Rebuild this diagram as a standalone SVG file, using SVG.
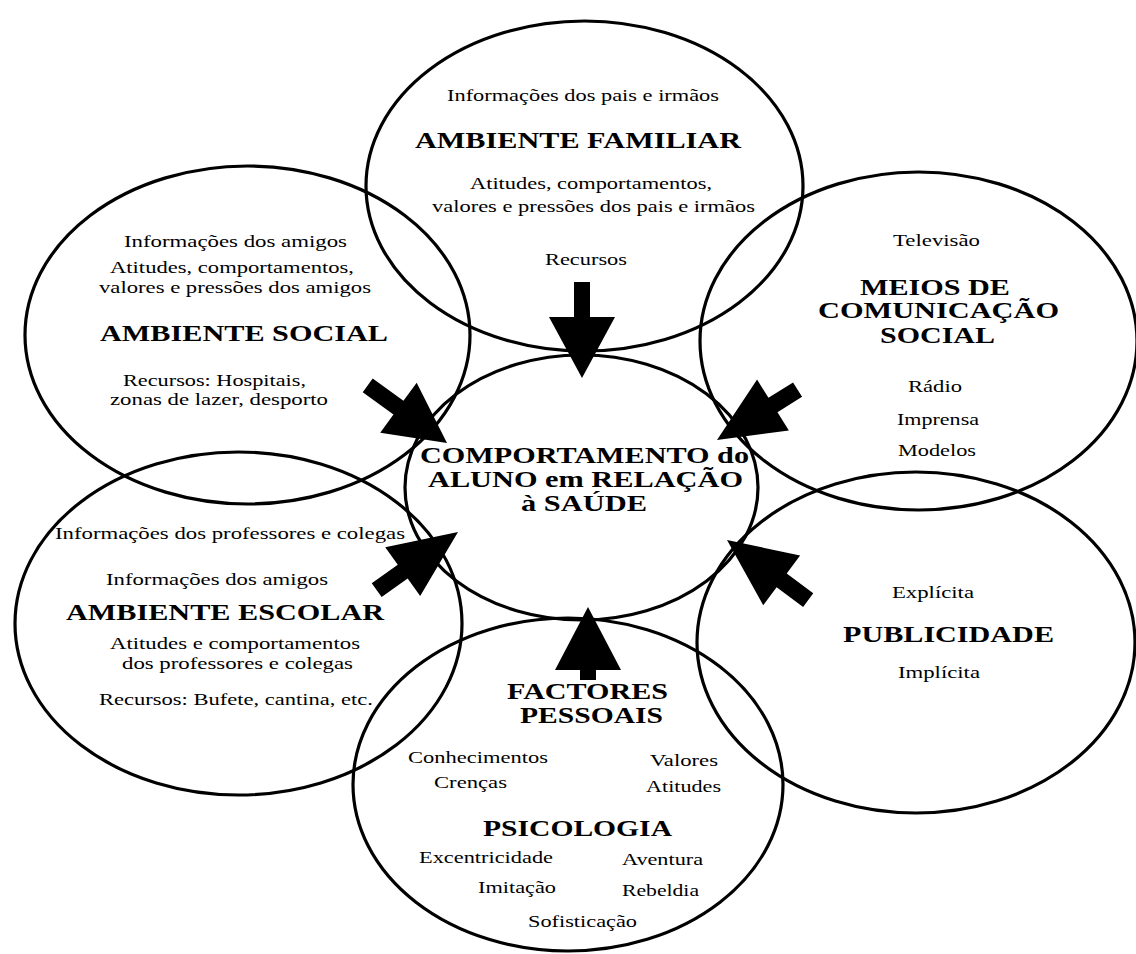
<svg xmlns="http://www.w3.org/2000/svg" width="1136" height="954" viewBox="0 0 1136 954">
<style>
.e{fill:none;stroke:#000;stroke-width:3.2}
.t{font-family:"Liberation Serif","Times New Roman",serif;font-size:17px;fill:#000}
.h{font-family:"Liberation Serif","Times New Roman",serif;font-size:23px;font-weight:bold;fill:#000}
.c{font-family:"Liberation Serif","Times New Roman",serif;font-size:23px;font-weight:bold;fill:#000}
.a{fill:#000}
</style>
<rect width="1136" height="954" fill="#fff"/>
<g id="familiar">
<ellipse class="e" cx="584.5" cy="186" rx="218.5" ry="165"/>
<text class="t" x="447" y="101" textLength="272" lengthAdjust="spacingAndGlyphs">Informações dos pais e irmãos</text>
<text class="h" x="415" y="148" textLength="326" lengthAdjust="spacingAndGlyphs">AMBIENTE FAMILIAR</text>
<text class="t" x="470" y="189" textLength="242" lengthAdjust="spacingAndGlyphs">Atitudes, comportamentos,</text>
<text class="t" x="432" y="212" textLength="323" lengthAdjust="spacingAndGlyphs">valores e pressões dos pais e irmãos</text>
<text class="t" x="545" y="265" textLength="82" lengthAdjust="spacingAndGlyphs">Recursos</text>
</g>
<g id="social">
<ellipse class="e" cx="247.5" cy="335" rx="222.5" ry="169"/>
<text class="t" x="124" y="247" textLength="223" lengthAdjust="spacingAndGlyphs">Informações dos amigos</text>
<text class="t" x="110" y="273" textLength="244" lengthAdjust="spacingAndGlyphs">Atitudes, comportamentos,</text>
<text class="t" x="99" y="293" textLength="272" lengthAdjust="spacingAndGlyphs">valores e pressões dos amigos</text>
<text class="h" x="100" y="341" textLength="288" lengthAdjust="spacingAndGlyphs">AMBIENTE SOCIAL</text>
<text class="t" x="123" y="386" textLength="183" lengthAdjust="spacingAndGlyphs">Recursos: Hospitais,</text>
<text class="t" x="110" y="405" textLength="218" lengthAdjust="spacingAndGlyphs">zonas de lazer, desporto</text>
</g>
<g id="meios">
<ellipse class="e" cx="918.5" cy="341" rx="218.5" ry="169"/>
<text class="t" x="893" y="246" textLength="87" lengthAdjust="spacingAndGlyphs">Televisão</text>
<text class="h" x="860" y="295" textLength="150" lengthAdjust="spacingAndGlyphs">MEIOS DE</text>
<text class="h" x="818" y="318" textLength="241" lengthAdjust="spacingAndGlyphs">COMUNICAÇÃO</text>
<text class="h" x="880" y="343" textLength="115" lengthAdjust="spacingAndGlyphs">SOCIAL</text>
<text class="t" x="908" y="392" textLength="54" lengthAdjust="spacingAndGlyphs">Rádio</text>
<text class="t" x="897" y="425" textLength="82" lengthAdjust="spacingAndGlyphs">Imprensa</text>
<text class="t" x="898" y="456" textLength="78" lengthAdjust="spacingAndGlyphs">Modelos</text>
</g>
<g id="escolar">
<ellipse class="e" cx="238.5" cy="623.5" rx="223.5" ry="171.5"/>
<text class="t" x="55" y="539" textLength="350" lengthAdjust="spacingAndGlyphs">Informações dos professores e colegas</text>
<text class="t" x="106" y="585" textLength="222" lengthAdjust="spacingAndGlyphs">Informações dos amigos</text>
<text class="h" x="66" y="620" textLength="318" lengthAdjust="spacingAndGlyphs">AMBIENTE ESCOLAR</text>
<text class="t" x="110" y="649" textLength="250" lengthAdjust="spacingAndGlyphs">Atitudes e comportamentos</text>
<text class="t" x="122" y="669" textLength="231" lengthAdjust="spacingAndGlyphs">dos professores e colegas</text>
<text class="t" x="99" y="705" textLength="274" lengthAdjust="spacingAndGlyphs">Recursos: Bufete, cantina, etc.</text>
</g>
<g id="publicidade">
<ellipse class="e" cx="916" cy="642.5" rx="219" ry="170.5"/>
<text class="t" x="892" y="598" textLength="82" lengthAdjust="spacingAndGlyphs">Explícita</text>
<text class="h" x="843" y="642" textLength="211" lengthAdjust="spacingAndGlyphs">PUBLICIDADE</text>
<text class="t" x="898" y="678" textLength="82" lengthAdjust="spacingAndGlyphs">Implícita</text>
</g>
<g id="factores">
<ellipse class="e" cx="568" cy="784.5" rx="215" ry="166.5"/>
<text class="h" x="507" y="699" textLength="161" lengthAdjust="spacingAndGlyphs">FACTORES</text>
<text class="h" x="520" y="723" textLength="143" lengthAdjust="spacingAndGlyphs">PESSOAIS</text>
<text class="t" x="408" y="763" textLength="140" lengthAdjust="spacingAndGlyphs">Conhecimentos</text>
<text class="t" x="434" y="788" textLength="73" lengthAdjust="spacingAndGlyphs">Crenças</text>
<text class="t" x="650" y="766" textLength="68" lengthAdjust="spacingAndGlyphs">Valores</text>
<text class="t" x="646" y="792" textLength="75" lengthAdjust="spacingAndGlyphs">Atitudes</text>
<text class="h" x="483" y="836" textLength="189" lengthAdjust="spacingAndGlyphs">PSICOLOGIA</text>
<text class="t" x="419" y="863" textLength="134" lengthAdjust="spacingAndGlyphs">Excentricidade</text>
<text class="t" x="622" y="865" textLength="81" lengthAdjust="spacingAndGlyphs">Aventura</text>
<text class="t" x="478" y="893" textLength="78" lengthAdjust="spacingAndGlyphs">Imitação</text>
<text class="t" x="622" y="896" textLength="77" lengthAdjust="spacingAndGlyphs">Rebeldia</text>
<text class="t" x="528" y="927" textLength="109" lengthAdjust="spacingAndGlyphs">Sofisticação</text>
</g>
<g id="connectors">
<polygon class="a" transform="translate(582,378) rotate(90)" points="-96,-8 -61,-8 -61,-33 0,0 -61,33 -61,8 -96,8"/>
<polygon class="a" transform="translate(588,607) rotate(-90)" points="-73,-8 -63,-8 -63,-33 0,0 -63,33 -63,8 -73,8"/>
<polygon class="a" transform="translate(447,443) rotate(36)" points="-98,-8.5 -60,-8.5 -60,-31 0,0 -60,31 -60,8.5 -98,8.5"/>
<polygon class="a" transform="translate(717,440) rotate(148)" points="-95,-8.5 -66,-8.5 -66,-30 0,0 -66,30 -66,8.5 -95,8.5"/>
<polygon class="a" transform="translate(458,532) rotate(-35.6)" points="-100,-8.5 -68,-8.5 -68,-30 0,0 -68,30 -68,8.5 -100,8.5"/>
<polygon class="a" transform="translate(727,540) rotate(216.5)" points="-101,-8.5 -68,-8.5 -68,-31 0,0 -68,31 -68,8.5 -101,8.5"/>
</g>
<g id="centro">
<ellipse class="e" cx="581.5" cy="487.5" rx="176.5" ry="132.5"/>
<text class="c" x="420" y="463" textLength="329" lengthAdjust="spacingAndGlyphs">COMPORTAMENTO do</text>
<text class="c" x="428" y="487" textLength="315" lengthAdjust="spacingAndGlyphs">ALUNO em RELAÇÃO</text>
<text class="c" x="521" y="511" textLength="126" lengthAdjust="spacingAndGlyphs">à SAÚDE</text>
</g>
</svg>
